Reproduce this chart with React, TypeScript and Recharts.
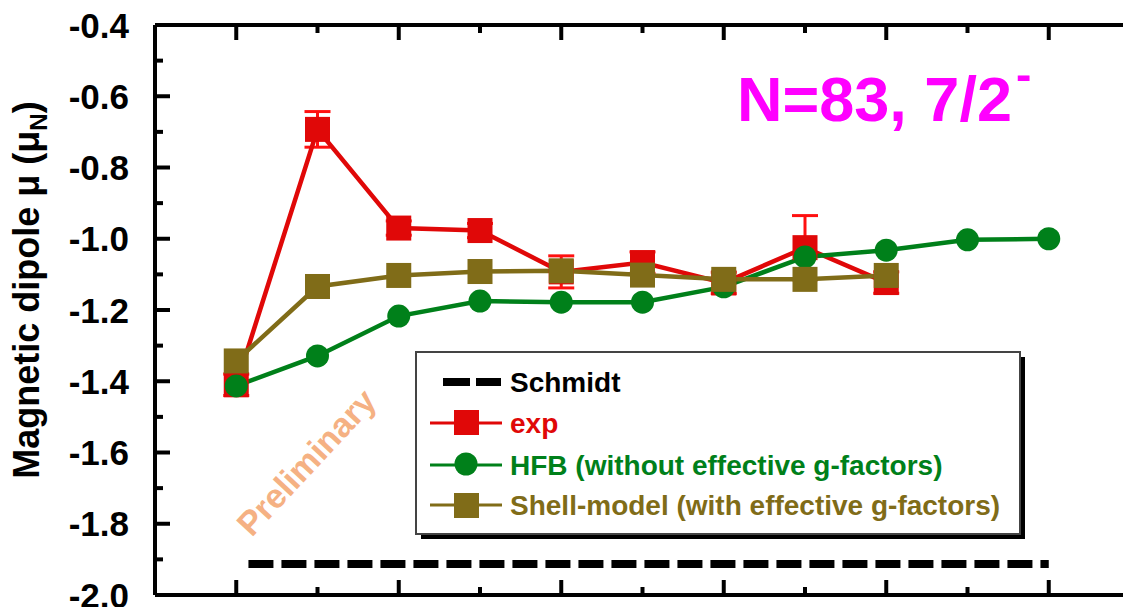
import { LineChart, Line, XAxis, YAxis, ErrorBar, Legend } from "recharts";

// N=83 isotones, index along x (axis labels are cut off in the original)
const isotopes = [0, 1, 2, 3, 4, 5, 6, 7, 8, 9, 10];
const expMu = [-1.41, -0.693, -0.97, -0.977, -1.093, -1.067, -1.124, -1.025, -1.123];
const expErr = [0.03, 0.05, 0.02, 0.02, 0.045, 0.03, 0.03, 0.09, 0.03];
const hfbMu = [-1.413, -1.329, -1.217, -1.175, -1.178, -1.178, -1.135, -1.051, -1.032, -1.003, -1.0];
const shellMu = [-1.343, -1.134, -1.103, -1.092, -1.09, -1.102, -1.114, -1.114, -1.103];
const schmidtX = [0.15, 10];
const schmidtMu = -1.913;
const yTicks = [-2.0, -1.9, -1.8, -1.7, -1.6, -1.5, -1.4, -1.3, -1.2, -1.1, -1.0, -0.9, -0.8, -0.7, -0.6, -0.5, -0.4];

const rows = isotopes.map((x, i) => ({
  x,
  exp: expMu[i],
  expErr: expErr[i],
  hfb: hfbMu[i],
  shell: shellMu[i],
}));
const schmidtRows = schmidtX.map((x) => ({ x, schmidt: schmidtMu }));

const RED = "#e00808";
const GREEN = "#00801a";
const OLIVE = "#806c18";
const FONT = "'Liberation Sans', Arial, sans-serif";

const isMajorY = (v: number) => Math.round(v * 10) % 2 === 0;

const LeftTick = ({ x, y, payload }: any) => {
  const major = isMajorY(payload.value);
  return (
    <g>
      <line x1={x} x2={x + (major ? 15 : 8)} y1={y} y2={y} stroke="#000" strokeWidth={4} />
      {major && (
        <text x={x - 26} y={y} dy="0.36em" textAnchor="end" fontSize={35} fontWeight="bold" fontFamily={FONT} fill="#000">
          {payload.value.toFixed(1)}
        </text>
      )}
    </g>
  );
};

const RightTick = ({ x, y, payload }: any) => {
  const major = isMajorY(payload.value);
  return <line x1={x - (major ? 15 : 8)} x2={x} y1={y} y2={y} stroke="#000" strokeWidth={4} />;
};

const BottomTick = ({ x, y, payload }: any) => {
  const major = payload.value % 2 === 0;
  return <line x1={x} x2={x} y1={y - (major ? 15 : 8)} y2={y} stroke="#000" strokeWidth={4} />;
};

const TopTick = ({ x, y, payload }: any) => {
  const major = payload.value % 2 === 0;
  return <line x1={x} x2={x} y1={y} y2={y + (major ? 15 : 8)} stroke="#000" strokeWidth={4} />;
};

const SquareDot = (color: string) => (props: any) => {
  const { cx, cy, index } = props;
  if (cx == null || cy == null) return <g key={index} />;
  return <rect key={index} x={cx - 12.5} y={cy - 12.5} width={25} height={25} fill={color} />;
};

const YTitle = () => (
  <text
    x={39}
    y={290}
    transform="rotate(-90, 39, 290)"
    textAnchor="middle"
    fontSize={36}
    fontWeight="bold"
    fontFamily={FONT}
    fill="#000"
  >
    Magnetic dipole μ (μ<tspan dy={8} fontSize={24}>N</tspan>
    <tspan dy={-8}>)</tspan>
  </text>
);

// legend box: 416..1020 x 352..534, black shadow offset 5
const LegendBox = () => {
  const txt = { fontSize: 28, fontWeight: "bold" as const, fontFamily: FONT };
  return (
    <svg width={620} height={195} style={{ display: "block" }}>
      <rect x={6} y={6} width={604} height={182} fill="#000" />
      <rect x={1} y={1} width={604} height={182} fill="#fff" stroke="#444" strokeWidth={2} />
      {/* Schmidt */}
      <line x1={28} x2={55} y1={31} y2={31} stroke="#000" strokeWidth={8} />
      <line x1={61} x2={86} y1={31} y2={31} stroke="#000" strokeWidth={8} />
      <text x={95} y={31} dy="0.36em" fill="#000" {...txt}>Schmidt</text>
      {/* exp */}
      <line x1={15} x2={87} y1={72} y2={72} stroke={RED} strokeWidth={3} />
      <rect x={39} y={59} width={25} height={25} fill={RED} />
      <text x={95} y={72} dy="0.36em" fill={RED} {...txt}>exp</text>
      {/* HFB */}
      <line x1={15} x2={87} y1={114} y2={114} stroke={GREEN} strokeWidth={3} />
      <circle cx={51} cy={113} r={11.5} fill={GREEN} />
      <text x={95} y={114} dy="0.36em" fill={GREEN} {...txt}>HFB (without effective g-factors)</text>
      {/* Shell model */}
      <line x1={15} x2={87} y1={154} y2={154} stroke={OLIVE} strokeWidth={3} />
      <rect x={39} y={142} width={25} height={25} fill={OLIVE} />
      <text x={95} y={154} dy="0.36em" fill={OLIVE} {...txt}>Shell-model (with effective g-factors)</text>
    </svg>
  );
};

export default function App() {
  return (
    <div style={{ position: "absolute", left: 0, top: 0, width: 1123, height: 607, overflow: "hidden", background: "#fff" }}>
      <LineChart width={1140} height={607} data={rows} margin={{ top: 24, right: 9, bottom: 11, left: 0 }}>
        <XAxis
          dataKey="x"
          type="number"
          domain={[-1, 11]}
          ticks={isotopes}
          interval={0}
          height={1}
          tickSize={0}
          tickMargin={0}
          tickLine={false}
          axisLine={{ stroke: "#000", strokeWidth: 4 }}
          tick={<BottomTick />}
        />
        <XAxis
          xAxisId="top"
          orientation="top"
          dataKey="x"
          type="number"
          domain={[-1, 11]}
          ticks={isotopes}
          interval={0}
          height={1}
          tickSize={0}
          tickMargin={0}
          tickLine={false}
          axisLine={{ stroke: "#000", strokeWidth: 4 }}
          tick={<TopTick />}
        />
        <YAxis
          type="number"
          domain={[-2.0, -0.4]}
          ticks={yTicks}
          interval={0}
          width={155}
          tickSize={0}
          tickMargin={0}
          tickLine={false}
          axisLine={{ stroke: "#000", strokeWidth: 4 }}
          tick={<LeftTick />}
          label={<YTitle />}
        />
        <YAxis
          yAxisId="right"
          orientation="right"
          type="number"
          domain={[-2.0, -0.4]}
          ticks={yTicks}
          interval={0}
          width={1}
          tickSize={0}
          tickMargin={0}
          tickLine={false}
          axisLine={{ stroke: "#000", strokeWidth: 4 }}
          tick={<RightTick />}
        />
        <Legend
          layout="horizontal"
          verticalAlign="middle"
          align="center"
          content={() => <LegendBox />}
          wrapperStyle={{ position: "absolute", left: 415, top: 351, width: 620, height: 195 }}
        />
        <Line
          data={schmidtRows}
          dataKey="schmidt"
          stroke="#000"
          strokeWidth={8}
          strokeDasharray="25 8"
          dot={false}
          activeDot={false}
          isAnimationActive={false}
        />
        <Line
          dataKey="exp"
          stroke={RED}
          strokeWidth={4.5}
          dot={SquareDot(RED)}
          activeDot={false}
          isAnimationActive={false}
        >
          <ErrorBar dataKey="expErr" direction="y" width={13} strokeWidth={3} stroke="#ff1010" />
        </Line>
        <Line
          dataKey="hfb"
          stroke={GREEN}
          strokeWidth={4.5}
          dot={{ r: 11.5, fill: GREEN, stroke: "none" }}
          activeDot={false}
          isAnimationActive={false}
        />
        <Line
          dataKey="shell"
          stroke={OLIVE}
          strokeWidth={4.5}
          dot={SquareDot(OLIVE)}
          activeDot={false}
          isAnimationActive={false}
        />
      </LineChart>
      <svg width={1123} height={607} style={{ position: "absolute", left: 0, top: 0, pointerEvents: "none" }}>
        <text x={737} y={121} fontSize={63} fontWeight="bold" fontFamily={FONT} fill="#ff00ff">
          N=83, 7/2
        </text>
        <text x={1016} y={90} fontSize={46} fontWeight="bold" fontFamily={FONT} fill="#ff00ff">
          -
        </text>
        <text
          x={306}
          y={462}
          dy="0.36em"
          transform="rotate(-47, 306, 462)"
          textAnchor="middle"
          fontSize={34}
          fontWeight="bold"
          fontFamily={FONT}
          fill="#f5b183"
        >
          Preliminary
        </text>
      </svg>
    </div>
  );
}
